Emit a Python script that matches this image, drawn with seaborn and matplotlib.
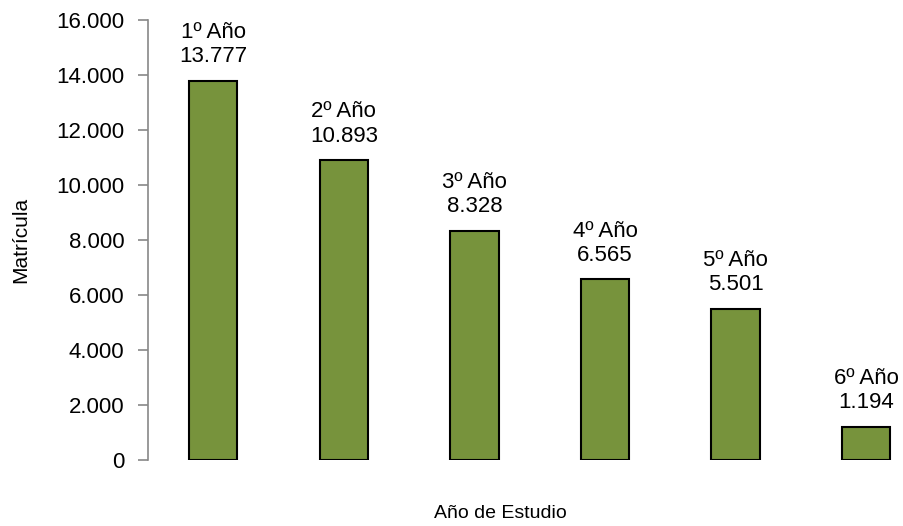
import matplotlib
matplotlib.use('Agg')
import matplotlib.pyplot as plt
import seaborn as sns
import pandas as pd

cursos = ['1º Año', '2º Año', '3º Año', '4º Año', '5º Año', '6º Año']
matricula = [13777, 10893, 8328, 6565, 5501, 1194]
yticks = [0, 2000, 4000, 6000, 8000, 10000, 12000, 14000, 16000]

sns.set_style('white')
plt.rcParams['font.family'] = ['Liberation Sans', 'DejaVu Sans']
plt.rcParams['text.color'] = 'black'
plt.rcParams['axes.labelcolor'] = 'black'
plt.rcParams['ytick.color'] = 'black'


def miles(v):
    return f'{v:,}'.replace(',', '.')


df = pd.DataFrame({'curso': cursos, 'matricula': matricula})

fig = plt.figure(figsize=(9.04, 5.26), dpi=100)
ax = fig.add_axes([148 / 904, 66 / 526, 756 / 904, 440 / 526])

sns.barplot(data=df, x='curso', y='matricula', color='#77933C', saturation=1,
            edgecolor='black', linewidth=1.5, width=0.37, ax=ax)

for i, (c, v) in enumerate(zip(cursos, matricula)):
    ax.text(i, v + 500, f'{c}\n{miles(v)}', ha='center', va='bottom',
            fontsize=16, linespacing=1.2)

ax.set_xlim(-0.5, 5.29)
ax.set_ylim(0, 16000)
ax.set_yticks(yticks)
ax.set_yticklabels([miles(t) for t in yticks], fontsize=16)
ax.set_xticks([])
ax.tick_params(axis='y', left=True, length=7, width=1.2, pad=10)
ax.tick_params(axis='y', colors='#888888', labelcolor='black')
for s in ['top', 'right', 'bottom']:
    ax.spines[s].set_visible(False)
ax.spines['left'].set_color('#888888')
ax.spines['left'].set_linewidth(1.2)

ax.set_ylabel('Matrícula', fontsize=15)
ax.yaxis.set_label_coords(-(148 - 30) / 756, 0.5)
ax.set_xlabel('Año de Estudio', fontsize=14)
ax.xaxis.set_label_coords((500 - 148) / 756, -(513 - 460) / 440)
ax.xaxis.label.set_va('center')

fig.savefig('out.png', dpi=100)
